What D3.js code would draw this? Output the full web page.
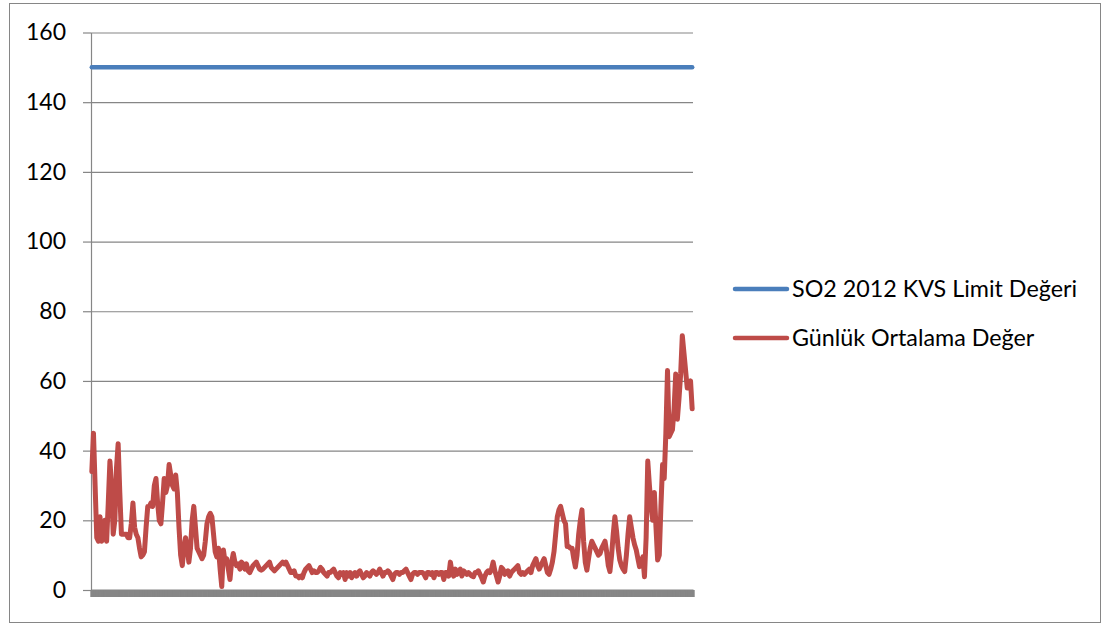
<!DOCTYPE html>
<html>
<head>
<meta charset="utf-8">
<script src="https://cdn.jsdelivr.net/npm/d3@7"></script>
<style>
  html, body { margin: 0; padding: 0; background: #fff; }
  svg { display: block; }
  text { font-family: Lato, "Open Sans", sans-serif; fill: #000; }
</style>
</head>
<body>
<svg id="chart" width="1107" height="626"></svg>
<script>
// Daily SO2 averages for 2012 (366 days) against the annual limit value.
const dailyAverage = [
  34, 45, 30, 15, 14, 21, 14, 15, 20, 14,
  25, 37, 30, 16, 20, 35, 42, 28, 16, 16,
  16, 16, 15, 15, 19, 25, 18, 16, 15, 12,
  9.5, 10, 11, 18, 24, 24, 25, 24, 30, 32,
  25, 20, 19, 25, 32, 28, 30, 36, 33, 30,
  29, 33, 28, 18, 10, 7, 12, 15, 12, 8,
  12, 20, 24, 18, 12, 11, 10, 9, 10, 14,
  19, 21, 22, 21, 16, 11, 9.5, 12, 6, 1,
  11.5, 8, 9, 6, 3, 8, 10.5, 8, 7, 7.5,
  6, 8, 7.5, 6, 7.5, 5.5, 5, 6, 7, 7.5,
  8, 7, 6, 5.7, 6, 6.5, 7, 7.5, 8, 6.5,
  6, 5.5, 6, 6.5, 7, 7.5, 8, 7.5, 8, 7,
  6, 5, 5, 5.5, 4, 4, 3.5, 4, 3.5, 5,
  6, 6.5, 7, 6, 5, 5.5, 5, 5, 5.5, 6.5,
  6, 5, 4.5, 4, 5, 5, 5.5, 6, 5, 4,
  3.5, 5, 4.5, 5, 3, 5, 4, 5, 3.5, 4.5,
  5, 4, 5, 5.5, 4.5, 3.5, 4, 5, 4.5, 4,
  5, 5.5, 5, 4.5, 5, 6, 5, 4, 5, 5,
  5.5, 5, 4, 3, 4.5, 5, 5, 4.5, 5, 5,
  5.5, 6, 5, 4, 3, 4.5, 5, 5, 4.5, 5,
  5, 5, 4.5, 3.5, 5, 5, 4.5, 5, 3.5, 5,
  5, 4.5, 5, 5, 3, 5, 5, 4, 8, 5,
  4, 6, 4.5, 5, 6, 4, 5.5, 5, 4.5, 5,
  4.5, 4, 3.8, 5, 5, 5.5, 4.5, 3.5, 2.3, 4,
  5, 5.5, 5, 6, 8, 5.5, 4, 2.3, 4, 6.5,
  6, 4.5, 5, 5.5, 4, 5, 5.5, 6, 6.5, 7,
  5, 4.5, 5, 4.5, 5, 5.5, 6, 5, 7, 8,
  9, 7, 6, 7, 8, 9, 7, 5, 4.5, 6,
  8, 11, 16, 21, 23, 24, 22, 20, 19, 12.5,
  12.5, 12, 12, 9, 6.6, 10, 16, 20, 23, 14,
  8, 5.7, 9, 12, 14, 13, 12, 11, 10, 10.5,
  12, 13, 14, 11, 7, 5.3, 10, 16, 21, 17,
  12, 8.6, 7, 6, 5.3, 10, 16, 21, 18, 15,
  13, 11.5, 9, 6.7, 8, 9.5, 3.8, 15, 37, 30,
  24, 20, 28, 18, 8.6, 10, 24, 36, 32, 45,
  63, 44, 45, 46, 52, 62, 49, 55, 62, 73,
  68, 63, 58, 59, 60, 52
];
const limitValue = 150;
const days = d3.range(1, dailyAverage.length + 1);
const limitSeries = days.map(() => limitValue);
const yTicks = [0, 20, 40, 60, 80, 100, 120, 140, 160];
const seriesNames = ["SO2 2012 KVS Limit Değeri", "Günlük Ortalama Değer"];
const seriesColors = ["#4A7EBB", "#BE4B48"];

const svg = d3.select("#chart");
const plot = { left: 91, right: 693, top: 32.5, bottom: 590 };
const gridColor = "#868686";

// outer chart frame
svg.append("rect")
  .attr("x", 9.5).attr("y", 3.5)
  .attr("width", 1091).attr("height", 619)
  .attr("fill", "#fff").attr("stroke", gridColor).attr("stroke-width", 1);

const x = d3.scaleBand().domain(days).range([plot.left, plot.right]);
const xEdge = d3.scaleLinear().domain([0, days.length]).range([plot.left, plot.right]);
const y = d3.scaleLinear().domain([0, 160]).range([plot.bottom, plot.top]);

// horizontal gridlines
const grid = svg.append("g")
  .attr("transform", `translate(${plot.left},0)`)
  .call(d3.axisLeft(y).tickValues(yTicks.filter(t => t > 0)).tickSize(-(plot.right - plot.left)).tickFormat(""));
grid.select(".domain").remove();
grid.selectAll("line").attr("stroke", gridColor).attr("stroke-width", 1.2);

// value axis with labels
const yAxis = svg.append("g")
  .attr("transform", `translate(${plot.left},0)`)
  .call(d3.axisLeft(y).tickValues(yTicks).tickSize(8).tickPadding(17).tickSizeOuter(0));
yAxis.select(".domain").attr("stroke", gridColor).attr("stroke-width", 1.2);
yAxis.selectAll("line").attr("stroke", gridColor).attr("stroke-width", 1.2);
yAxis.selectAll("text")
  .attr("font-size", 23)
  .attr("font-family", "Lato, sans-serif")
  .attr("fill", "#000");

// category axis: one tick mark per day, packed into a solid band
const xAxis = svg.append("g")
  .attr("transform", `translate(0,${plot.bottom})`)
  .call(d3.axisBottom(xEdge).tickValues(d3.range(0, days.length + 1)).tickSize(7).tickFormat("").tickSizeOuter(0));
xAxis.select(".domain").attr("stroke", gridColor).attr("stroke-width", 2);
xAxis.selectAll("line").attr("stroke", gridColor).attr("stroke-width", 2.4);

const line = d3.line()
  .x((d, i) => x(days[i]) + x.bandwidth() / 2)
  .y(d => y(d));

svg.append("path")
  .datum(limitSeries)
  .attr("d", line)
  .attr("fill", "none")
  .attr("stroke", seriesColors[0])
  .attr("stroke-width", 4.5)
  .attr("stroke-linecap", "round");

svg.append("path")
  .datum(dailyAverage)
  .attr("d", line)
  .attr("fill", "none")
  .attr("stroke", seriesColors[1])
  .attr("stroke-width", 5)
  .attr("stroke-linejoin", "round")
  .attr("stroke-linecap", "round");

// legend
const legendY = [289, 338];
const legend = svg.append("g");
seriesNames.forEach((name, i) => {
  legend.append("line")
    .attr("x1", 735).attr("x2", 787)
    .attr("y1", legendY[i]).attr("y2", legendY[i])
    .attr("stroke", seriesColors[i])
    .attr("stroke-width", 4.5)
    .attr("stroke-linecap", "round");
  legend.append("text")
    .attr("x", 792).attr("y", legendY[i])
    .attr("dy", "0.36em")
    .attr("font-size", 23.3)
    .text(name);
});
</script>
</body>
</html>
